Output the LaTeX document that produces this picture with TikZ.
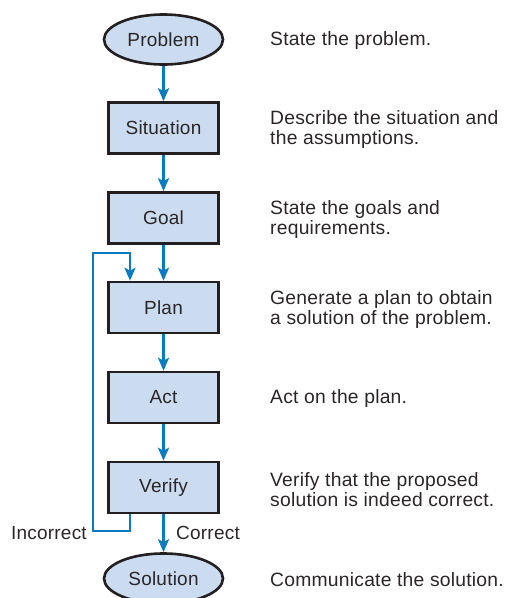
\documentclass[tikz,border=0pt]{standalone}
\usepackage{fontspec}
\setmainfont{Liberation Sans}[LetterSpace=1.2]
\usetikzlibrary{shapes.geometric,arrows.meta}
\definecolor{boxfill}{HTML}{CCDCF0}
\definecolor{boxline}{HTML}{231F20}
\definecolor{flow}{HTML}{0B7BC1}
\definecolor{txt}{HTML}{2A2627}
\tikzset{
  base/.style={draw=boxline, line width=2.6pt, fill=boxfill, text=txt, inner sep=0pt,
    font=\fontsize{19}{20}\selectfont},
  stepbox/.style={base, rectangle, minimum width=110pt, minimum height=51pt},
  term/.style={base, ellipse, minimum width=119pt, minimum height=50pt},
  desc/.style={anchor=west, align=left, text=txt, inner sep=0pt,
    font=\fontsize{19.3}{20}\selectfont},
  lbl/.style={text=txt, inner sep=0pt, font=\fontsize{19}{20}\selectfont},
  conn/.style={draw=flow, line width=2.6pt, -{Stealth[length=13pt,width=11pt,inset=3pt]}}
}
\begin{document}
\begin{tikzpicture}[x=1pt,y=-1pt]
\useasboundingbox (0,0) rectangle (505,598);
\node[term] (problem) at (163.5,39.5) {Problem};
\node[stepbox] (situation) at (163.5,128) {Situation};
\node[stepbox] (goal) at (163.5,218) {Goal};
\node[stepbox] (plan) at (163.5,307.5) {Plan};
\node[stepbox] (act) at (163.5,397.5) {Act};
\node[stepbox] (verify) at (163.5,487.5) {Verify};
\node[term] (solution) at (163.5,578.5) {Solution};

\draw[conn] (problem) -- (situation);
\draw[conn] (situation) -- (goal);
\draw[conn] (goal) -- (plan);
\draw[conn] (plan) -- (act);
\draw[conn] (act) -- (verify);
\draw[conn] (verify) -- (solution);

\coordinate (vout) at ([xshift=-33.5pt]verify.south);
\coordinate (pin) at ([xshift=-33.5pt]plan.north);
\coordinate (c1) at (130,531);
\coordinate (c2) at (93,531);
\coordinate (c3) at (93,253);
\coordinate (c4) at (130,253);
\draw[conn] (vout) -- (c1) -- (c2) -- (c3) -- (c4) -- (pin);

\node[lbl, anchor=base east] (incorrect) at (87,539.5) {Incorrect};
\node[lbl, anchor=base west] (correct) at (176,539.5) {Correct};

\node[desc] (d1) at (270,41) {State the problem.};
\node[desc] (d2) at (270,130) {Describe the situation and\\the assumptions.};
\node[desc] (d3) at (270,220) {State the goals and\\requirements.};
\node[desc] (d4) at (270,309.5) {Generate a plan to obtain\\a solution of the problem.};
\node[desc] (d5) at (270,399) {Act on the plan.};
\node[desc] (d6) at (270,489.5) {Verify that the proposed\\solution is indeed correct.};
\node[desc] (d7) at (270,580) {Communicate the solution.};
\end{tikzpicture}
\end{document}
